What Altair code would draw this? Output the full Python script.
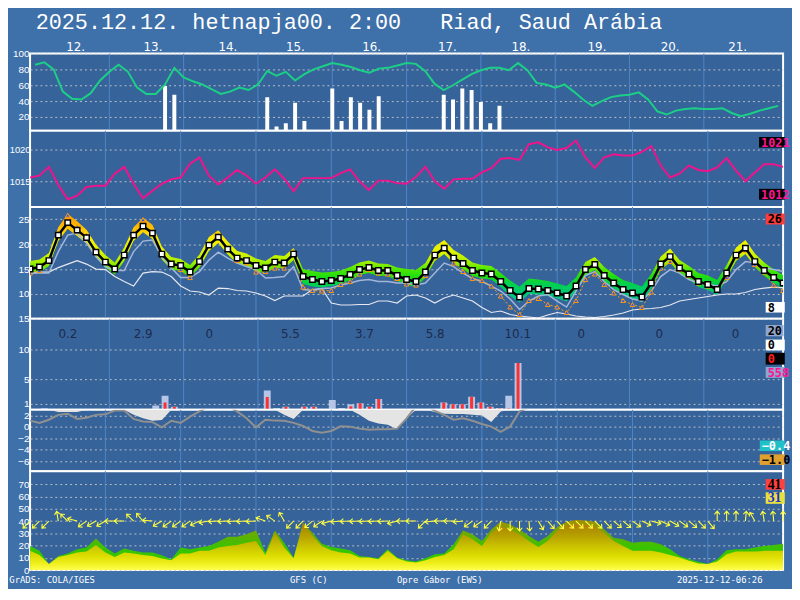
import altair as alt
import pandas as pd

# ---------------- data ----------------
HOURS = list(range(0, 241, 3))          # forecast steps, 3-hourly over 10 days
DAY_LINES = [24, 48, 72, 96, 120, 144, 168, 192, 216]
DAY_NAMES = ["12.", "13.", "14.", "15.", "16.", "17.", "18.", "19.", "20.", "21."]
DAY_NAME_H = [13.1, 38.1, 62.3, 84.1, 108.7, 133.2, 156.9, 181.5, 205.1, 226.9]

RH = [86, 89, 80, 52, 43, 42, 50, 66, 77, 86,
      77, 57, 49, 49, 61, 82, 70, 65, 61, 55,
      49, 52, 57, 54, 61, 78, 72, 77, 66, 74,
      80, 84, 88, 86, 83, 79, 76, 81, 82, 85,
      88, 87, 78, 62, 54, 60, 67, 74, 79, 82,
      82, 79, 88, 79, 63, 61, 57, 61, 52, 42,
      34, 40, 45, 47, 48, 51, 42, 27, 23, 28,
      30, 31, 30, 30, 31, 25, 21, 24, 28, 31, 34]

POP_H = [42, 45, 75, 78, 81, 84, 87, 90, 96, 99, 102, 105, 108, 111, 114,
         132, 135, 138, 141, 144, 147, 150, 156]
POP_V = [59, 48, 45, 8, 12, 38, 15, 3, 56, 15, 45, 38, 29, 46, 3,
         48, 42, 56, 54, 39, 12, 34, 1]

PRES = [1015.6, 1015.9, 1017.3, 1014.4, 1012.1, 1012.7, 1014.1, 1014.3, 1014.3, 1016.2,
        1017.3, 1014.6, 1012.3, 1013.5, 1014.6, 1015.3, 1015.6, 1017.8, 1018.8, 1015.9,
        1014.5, 1015.6, 1016.8, 1015.9, 1014.6, 1015.6, 1016.9, 1015.4, 1013.4, 1015.5,
        1015.5, 1015.5, 1015.5, 1016.3, 1016.9, 1015.0, 1013.6, 1015.1, 1015.1, 1014.7,
        1014.6, 1015.7, 1017.3, 1015.0, 1013.8, 1015.3, 1015.4, 1015.4, 1016.4, 1017.1,
        1018.6, 1018.7, 1018.4, 1020.9, 1021.2, 1020.4, 1020.0, 1020.3, 1021.5, 1018.8,
        1017.1, 1018.8, 1019.3, 1019.1, 1019.1, 1019.7, 1020.6, 1017.5, 1015.6, 1016.2,
        1017.5, 1016.8, 1016.6, 1017.2, 1018.7, 1016.7, 1015.0, 1016.4, 1017.7, 1017.7, 1017.3]

T2M = [15.0, 15.4, 16.7, 21.8, 24.3, 22.8, 21.3, 18.4, 16.4, 15.0,
       17.8, 21.8, 23.6, 22.2, 18.0, 16.0, 15.7, 14.4, 16.5, 19.8,
       21.4, 19.0, 17.2, 16.7, 15.7, 15.2, 16.4, 16.2, 18.0, 13.5,
       12.9, 12.5, 12.7, 13.1, 13.9, 14.9, 15.3, 14.7, 14.7, 13.7,
       12.9, 12.5, 14.4, 17.8, 19.2, 17.2, 16.1, 14.7, 14.2, 14.0,
       12.5, 10.7, 9.4, 11.1, 11.0, 10.7, 10.2, 9.6, 11.6, 14.9,
       15.9, 13.7, 12.2, 10.9, 10.2, 9.4, 12.2, 16.0, 17.5, 15.2,
       14.0, 12.5, 11.9, 10.9, 14.2, 17.8, 19.2, 16.5, 14.7, 13.3, 12.2]

T_ALT = [14.2, 14.7, 16.5, 22.2, 25.8, 23.5, 21.8, 18.5, 16.4, 14.9,
         17.8, 22.2, 24.9, 22.5, 18.2, 15.9, 14.9, 13.3, 16.3, 20.0,
         21.8, 19.0, 16.7, 16.3, 14.4, 14.5, 15.2, 15.2, 18.5, 11.4,
         10.7, 10.6, 10.7, 11.9, 12.5, 14.0, 14.9, 14.2, 14.0, 13.1,
         12.0, 11.8, 13.7, 17.5, 19.2, 16.2, 14.5, 13.1, 12.7, 11.6,
         9.6, 7.4, 5.9, 8.7, 9.1, 7.9, 7.4, 6.3, 8.7, 12.9,
         14.0, 11.9, 10.2, 8.7, 7.9, 7.3, 10.4, 15.2, 16.5, 14.9,
         13.7, 12.2, 11.6, 10.7, 13.3, 17.5, 18.8, 15.9, 14.4, 11.8, 10.7]

T_FEEL = [14.2, 14.2, 14.2, 18.5, 21.8, 22.2, 20.2, 17.5, 15.5, 14.7,
          14.7, 18.5, 20.6, 20.8, 17.5, 15.2, 13.3, 13.3, 14.5, 16.8,
          18.4, 17.2, 16.2, 15.5, 14.9, 13.2, 13.3, 13.5, 15.5, 10.9,
          10.7, 11.1, 11.2, 11.8, 12.2, 12.7, 12.9, 12.5, 12.5, 12.2,
          12.2, 11.8, 12.2, 14.2, 16.2, 15.5, 14.2, 13.1, 12.5, 11.6,
          10.6, 9.0, 6.9, 8.6, 9.6, 9.9, 8.6, 7.4, 10.6, 13.7,
          14.5, 12.5, 10.9, 9.9, 9.0, 8.6, 10.6, 13.5, 14.9, 14.2,
          12.9, 12.2, 11.9, 11.6, 12.5, 14.9, 16.5, 16.2, 15.2, 14.9, 14.5]

T_DEW = [14.2, 14.4, 14.4, 15.3, 16.0, 16.7, 16.0, 15.0, 14.9, 13.5,
         12.5, 11.6, 14.2, 14.5, 14.4, 13.5, 11.6, 10.6, 10.4, 9.8,
         11.2, 11.1, 10.7, 10.6, 10.2, 9.6, 8.7, 9.6, 9.6, 9.6,
         10.9, 11.1, 8.2, 7.8, 7.8, 7.9, 7.9, 8.6, 8.6, 8.2,
         9.6, 9.8, 9.2, 8.2, 9.2, 9.8, 9.2, 8.6, 7.3, 6.3,
         6.6, 5.9, 5.6, 5.4, 5.2, 5.8, 6.3, 6.0, 5.6, 5.4,
         5.3, 5.5, 5.8, 6.2, 6.8, 7.0, 7.1, 7.3, 7.8, 8.6,
         8.9, 9.2, 9.5, 9.8, 10.0, 10.0, 10.3, 10.9, 11.2, 11.4, 11.3]

BAND_HI = [16.6, 16.9, 18.2, 23.4, 26.1, 24.6, 22.9, 19.9, 17.8, 16.3,
           19.3, 23.4, 25.3, 23.9, 19.5, 17.4, 17.0, 15.8, 17.9, 21.4,
           22.8, 20.5, 18.6, 18.1, 17.1, 16.6, 17.8, 17.6, 19.2, 15.0,
           14.6, 14.3, 14.4, 14.7, 15.4, 16.3, 16.7, 16.1, 16.0, 15.3,
           15.0, 14.8, 16.2, 19.5, 20.8, 18.8, 17.7, 16.3, 15.8, 15.6,
           14.2, 12.7, 11.5, 13.1, 12.9, 12.6, 12.1, 11.6, 13.3, 16.4,
           17.4, 15.4, 14.0, 12.8, 12.2, 11.5, 14.0, 17.5, 19.1, 16.8,
           15.6, 14.2, 13.7, 12.8, 15.8, 19.3, 20.8, 18.1, 16.3, 14.9, 13.8]
BAND_LO = [13.9, 14.3, 15.6, 20.6, 23.1, 21.6, 20.1, 17.3, 15.3, 13.9,
           16.6, 20.6, 22.4, 21.0, 16.9, 14.9, 14.6, 13.3, 15.3, 18.6,
           20.2, 17.9, 16.1, 15.6, 14.6, 14.1, 15.3, 15.1, 16.8, 12.0,
           11.5, 11.3, 11.6, 12.0, 12.8, 13.8, 14.2, 13.6, 13.6, 12.6,
           11.8, 11.4, 13.2, 16.6, 18.0, 16.1, 15.0, 13.6, 13.1, 12.9,
           11.4, 9.6, 8.3, 10.0, 9.9, 9.6, 9.1, 8.5, 10.5, 13.8,
           14.8, 12.6, 11.1, 9.8, 9.1, 8.3, 11.0, 14.8, 16.3, 14.1,
           12.9, 11.4, 10.8, 9.8, 13.0, 16.6, 18.0, 15.4, 13.6, 12.2, 11.1]

PR_H = [3, 39, 42, 45, 75, 78, 81, 87, 90, 96, 99, 102, 105, 108, 111,
        132, 135, 138, 141, 144, 147, 150, 153, 156]
PR_TOT = [0.25, 0.7, 2.3, 0.5, 3.2, 0.3, 0.5, 0.5, 0.5, 1.6, 0.3, 0.9, 1.1, 0.5, 1.8,
          1.2, 0.9, 0.9, 2.15, 1.2, 0.5, 0.3, 2.3, 7.7]
PR_CONV = [0, 0, 1.2, 0.5, 2.1, 0, 0.5, 0.5, 0.5, 0, 0, 0.6, 1.1, 0.5, 1.8,
           1.2, 0.9, 0.9, 2.15, 1.2, 0.5, 0.2, 0.2, 7.7]
DAY_SUM = ["0.2", "2.9", "0", "5.5", "3.7", "5.8", "10.1", "0", "0", "0"]
DAY_SUM_H = [10.6, 34.9, 56.3, 82.5, 106.4, 129.2, 155.9, 176.4, 201.6, 226.2]

LOW_LINE = [1.1, 0.7, 1.25, 2.1, 2.3, 1.4, 1.6, 2.1, 2.2, 2.85,
            2.85, 1.4, 0.96, 0.84, -0.07, 1.08, 0.7, 1.8, 2.7, 3.6,
            4.2, 3.6, 2.7, 1.5, -0.07, 1.25, 1.1, 1.08, 0.7, 0.17,
            -0.7, -1.0, -0.7, 0.1, 0.05, -0.3, -0.5, -0.4, -0.4, -0.3,
            1.5, 3.6, 3.8, 2.8, 2.1, 1.25, 1.5, 1.08, 0.5, 0.05,
            -0.85, 0.05, 2.7, 3.4] + [None] * 27
LOW_FILL = [2.98, 2.98, 2.98, 2.6, 2.6, 2.6, 2.98, 2.98, 2.98, 2.98,
            2.98, 2.1, 1.5, 1.08, 1.2, 2.98, 2.98, 2.98, 2.98, 2.98,
            2.98, 2.98, 2.98, 2.98, 2.98, 2.98, 2.98, 2.1, 1.4, 2.98,
            2.98, 2.98, 2.98, 2.98, 2.98, 2.1, 1.08, 0.6, 0.4, -0.4,
            1.5, 2.98, 2.98, 2.6, 2.3, 2.25, 2.25, 2.1, 2.0, 0.85,
            2.7, 2.98, 2.98, 2.98, 2.98, 2.98, 2.98, 2.98, 2.98, 2.98,
            2.98, 2.98, 2.98, 2.98, 2.98, 2.98, 2.98, 2.98, 2.98, 2.98,
            2.98, 2.98, 2.98, 2.98, 2.98, 2.98, 2.98, 2.98, 2.98, 2.98, 2.98]

CLD_G = [19.7, 15.7, 4.9, 11.6, 13.5, 17.0, 18.4, 25.7, 18.4, 13.5,
         17.6, 15.7, 14.3, 14.3, 12.2, 8.9, 18.4, 17.0, 18.4, 19.7,
         23.2, 27.3, 27.3, 29.2, 32.4, 14.3, 32.4, 22.4, 10.3, 38.6,
         30.5, 21.6, 18.9, 17.6, 16.2, 11.6, 10.8, 9.7, 17.0, 10.3,
         8.1, 7.0, 9.7, 13.0, 13.5, 21.0, 32.4, 29.2, 23.8, 33.2,
         39.5, 37.3, 33.2, 27.8, 23.2, 27.8, 35.1, 39.5, 40.8, 40.5,
         39.5, 33.2, 26.5, 25.1, 22.4, 23.2, 23.2, 21.0, 17.0, 11.6,
         8.9, 6.8, 4.9, 8.9, 16.2, 17.0, 17.0, 18.4, 19.7, 20.5, 21.6]
CLD_Y = [15.7, 12.4, 4.9, 10.8, 12.4, 14.3, 15.1, 20.5, 14.3, 10.8,
         14.3, 13.5, 12.4, 11.6, 9.5, 8.1, 13.5, 13.5, 15.7, 15.7,
         18.4, 19.7, 20.5, 22.4, 23.8, 12.4, 30.5, 18.4, 9.7, 37.8,
         27.8, 19.7, 16.2, 14.3, 13.5, 10.3, 10.3, 8.9, 15.7, 9.7,
         7.0, 6.2, 8.1, 10.8, 12.4, 17.0, 29.2, 25.1, 19.7, 30.5,
         35.9, 33.2, 29.2, 23.8, 18.9, 23.8, 31.9, 36.8, 37.8, 37.3,
         35.9, 30.5, 23.8, 19.7, 15.7, 15.7, 15.7, 14.3, 12.4, 10.3,
         7.6, 5.4, 4.9, 7.0, 13.0, 15.1, 15.1, 15.1, 15.7, 15.7, 15.7]

WIND_DIR = [225, 225, 225, 350, 315, 285, 235, 240, 240, 270,
            270, 315, 320, 275, 240, 235, 235, 235, 245, 260,
            268, 268, 268, 268, 268, 290, 305, 330, 225, 225,
            230, 235, 255, 265, 268, 268, 268, 268, 268, 255,
            270, 270, 225, 265, 270, 270, 265, 235, 235, 225,
            190, 180, 180, 175, 150, 140, 140, 135, 135, 135,
            135, 135, 130, 130, 125, 115, 105, 115, 120, 125,
            130, 135, 140, 0, 0, 0, 5, 330, 350, 355, 0]
WIND_LEVEL = 40      # the arrows sit on the 40 line of the lowest panel

TITLE = "2025.12.12. hetnapja00. 2:00\u00a0\u00a0\u00a0Riad, Saud Arábia"

# ---------------- frames ----------------
main = pd.DataFrame({"h": HOURS, "rh": RH, "p": PRES, "t": T2M, "ta": T_ALT,
                     "tf": T_FEEL, "td": T_DEW, "hi": BAND_HI, "lo": BAND_LO,
                     "lw": LOW_LINE, "lf": LOW_FILL, "cg": CLD_G, "cy": CLD_Y,
                     "wd": WIND_DIR})
days = pd.DataFrame({"h": DAY_LINES})
daylab = pd.DataFrame({"h": DAY_NAME_H, "t": DAY_NAMES})
pop = pd.DataFrame({"h": POP_H, "v": POP_V})
prec = pd.DataFrame({"h": PR_H, "tot": PR_TOT, "conv": PR_CONV})
daysum = pd.DataFrame({"h": DAY_SUM_H, "t": DAY_SUM})
ONE = pd.DataFrame({"k": [0]})

# ---------------- styling helpers ----------------
BG = "#3e70aa"
PLOT_BG = "#36639a"
W = 761
AX_EXT = 34          # fixed y-axis extent -> deterministic left edge
RIGHT = 762.7        # right edge of the page area, relative to plot left


def X():
    return alt.X("h:Q", scale=alt.Scale(domain=[0, 240], nice=False, zero=False), axis=None)


def yaxis(vals, fsize=10, pad=1):
    return alt.Axis(values=vals, format="d", grid=True, ticks=False, domain=False, title=None,
                    labelColor="white", labelFont="Liberation Sans", labelFontSize=fsize,
                    labelPadding=pad, labelOverlap=False,
                    minExtent=AX_EXT, maxExtent=AX_EXT,
                    gridColor="#c9c9c9", gridDash=[2, 3], gridOpacity=0.9, gridWidth=1)


def yscale(dom):
    return alt.Scale(domain=dom, nice=False, zero=False)


def Y(field, dom, vals, fsize=10, pad=1):
    return alt.Y(f"{field}:Q", scale=yscale(dom), axis=yaxis(vals, fsize, pad))


def rules():
    return alt.Chart(days).mark_rule(color="#4f86c8", strokeWidth=1).encode(x=X())


def badge(text, x1, x2, y1, y2, fill, color, font="DejaVu Sans Mono", size=12):
    r = alt.Chart(ONE).mark_rect(fill=fill).encode(
        x=alt.value(x1), x2=alt.value(x2), y=alt.value(y1), y2=alt.value(y2))
    t = alt.Chart(ONE).mark_text(text=text, align="left", baseline="middle", font=font,
                                 fontSize=size, fontWeight="bold", color=color).encode(
        x=alt.value(x1 + 2), y=alt.value((y1 + y2) / 2 + 0.5))
    return [r, t]


def grad(stops, vmax, vmin):
    out = []
    for v, c in stops:
        off = (vmax - v) / (vmax - vmin)
        out.append(alt.GradientStop(color=c, offset=min(1.0, max(0.0, off))))
    return alt.LinearGradient(gradient="linear", stops=out, x1=0, x2=0, y1=0, y2=1)


# ---------------- panel 1: humidity ----------------
D1, V1 = [2.5, 100], [20, 40, 60, 80, 100]
p1 = alt.layer(
    rules(),
    alt.Chart(pop).mark_bar(color="white", size=4, clip=True, orient="vertical").encode(
        x=X(), y=Y("v", D1, V1)),
    alt.Chart(main).mark_line(color="#1ccf86", strokeWidth=2, clip=True).encode(
        x=X(), y=Y("rh", D1, V1)),
    alt.Chart(daylab).mark_text(color="white", font="DejaVu Sans", fontSize=12,
                                align="center", baseline="alphabetic").encode(
        x=X(), y=alt.value(-3), text="t:N"),
    alt.Chart(ONE).mark_text(text=TITLE, color="white", font="Liberation Mono", fontSize=22,
                             align="left", baseline="alphabetic").encode(
        x=alt.value(5.7), y=alt.value(-25)),
    # invisible frame marker fixing the top edge of the layout
    alt.Chart(ONE).mark_rect(opacity=0).encode(
        x=alt.value(0), x2=alt.value(10), y=alt.value(-46), y2=alt.value(-45)),
).properties(width=W, height=78)

# ---------------- panel 2: pressure ----------------
D2, V2 = [1010.9, 1023.05], [1015, 1020]
p2 = alt.layer(
    rules(),
    alt.Chart(main).mark_line(color="#f0148c", strokeWidth=2, clip=True).encode(
        x=X(), y=Y("p", D2, V2, fsize=9.5, pad=0)),
    *badge("1021", 736.7, RIGHT, 6.3, 17.0, "black", "#ff1493"),
    *badge("1012", 736.7, RIGHT, 58.7, 69.7, "black", "#ff1493"),
).properties(width=W, height=77)

# ---------------- panel 3: temperature ----------------
D3, V3 = [5.04, 27.44], [10, 15, 20, 25]
band_grad = grad([(26.5, "#ff9a00"), (24.0, "#ffb400"), (22.5, "#ffd200"), (21.0, "#f4f000"),
                  (18.5, "#e0f400"), (16.5, "#a8f000"), (15.0, "#50e800"), (13.5, "#20dc10"),
                  (12.0, "#00d050"), (10.0, "#00c878"), (8.0, "#10bc90")],
                 max(BAND_HI), min(BAND_LO))
p3 = alt.layer(
    rules(),
    alt.Chart(main).mark_area(color=band_grad, clip=True).encode(
        x=X(), y=Y("lo", D3, V3), y2="hi:Q"),
    alt.Chart(main).mark_line(color="#e8e8f0", strokeWidth=1.2, clip=True).encode(
        x=X(), y=Y("td", D3, V3)),
    alt.Chart(main).mark_line(color="#a3b6d8", strokeWidth=1.5, clip=True).encode(
        x=X(), y=Y("tf", D3, V3)),
    alt.Chart(main).mark_line(color="#ffa020", strokeWidth=1, strokeDash=[2, 2], clip=True).encode(
        x=X(), y=Y("ta", D3, V3)),
    alt.Chart(main).mark_point(shape="triangle-up", filled=True, fill="#3355ff", stroke="#ff9900",
                               strokeWidth=1, size=22, opacity=1, clip=True).encode(
        x=X(), y=Y("ta", D3, V3)),
    alt.Chart(main).mark_line(color="black", strokeWidth=2.5, clip=True).encode(
        x=X(), y=Y("t", D3, V3)),
    alt.Chart(main).mark_point(shape="square", filled=True, fill="white", stroke="black",
                               strokeWidth=1.5, size=30, opacity=1, clip=True).encode(
        x=X(), y=Y("t", D3, V3)),
    *badge("26", 743.4, RIGHT, 6.7, 17.7, "#ff3b3b", "black"),
    *badge("8", 743.4, RIGHT, 96.0, 106.7, "white", "black"),
).properties(width=W, height=113)

# ---------------- panel 4: precipitation ----------------
D4, V4 = [0, 15], [1, 5, 10, 15]
p4 = alt.layer(
    rules(),
    alt.Chart(prec).mark_bar(color="#b6c5e6", size=7, clip=True, orient="vertical").encode(
        x=X(), y=Y("tot", D4, V4)),
    alt.Chart(prec).mark_bar(color="#ff3030", size=3, clip=True, orient="vertical").encode(
        x=X(), y=Y("conv", D4, V4)),
    alt.Chart(daysum).mark_text(color="#1c2b4e", font="DejaVu Sans", fontSize=12,
                                align="center", baseline="middle").encode(
        x=X(), y=alt.value(15), text="t:N"),
    *badge("20", 743.4, 761.4, 6.3, 17.7, "#8fa6cf", "black"),
    *badge("0", 743.4, RIGHT, 21.0, 32.0, "white", "black"),
    *badge("0", 743.4, RIGHT, 34.3, 46.3, "black", "#ff2020"),
    *badge("558", 743.4, RIGHT, 48.7, 59.7, "#8fa6cf", "#ff1493"),
).properties(width=W, height=92)

# ---------------- panel 4b ----------------
D4B, V4B = [-7.71, 2.98], [-6, -4, -2, 0, 2]
p4b = alt.layer(
    rules(),
    alt.Chart(main).mark_area(color="#e4e4e4", clip=True).encode(
        x=X(), y=Y("lf", D4B, V4B), y2=alt.datum(2.98)),
    alt.Chart(main).transform_filter("isValid(datum.lw)").mark_line(
        color="#909090", strokeWidth=2, clip=True).encode(x=X(), y=Y("lw", D4B, V4B)),
    *badge("\u22120.4", 737.4, RIGHT, 31.0, 41.7, "#20c0c8", "white"),
    *badge("\u22121.0", 737.4, RIGHT, 45.0, 55.7, "#e0a030", "black"),
).properties(width=W, height=62)

# ---------------- panel 5: cloud / wind ----------------
D5, V5 = [0, 80.7], [0, 10, 20, 30, 40, 50, 60, 70]
green_grad = grad([(41, "#a89000"), (36, "#8a9a00"), (30, "#6aac00"), (24, "#50b800"),
                   (18, "#38c400"), (0, "#30c800")], max(CLD_G), 0)
yellow_grad = grad([(38, "#b07a10"), (33, "#b09000"), (27, "#b8a400"), (20, "#c8c000"),
                    (12, "#dcdc00"), (5, "#f0f020"), (0, "#ffff50")], max(CLD_Y), 0)
ARROW = "M0,0L0,-2M-0.55,-1.35L0,-2L0.55,-1.35"
FOOT_Y = 113
p5 = alt.layer(
    rules(),
    alt.Chart(main).mark_area(color=green_grad, clip=True).encode(x=X(), y=Y("cg", D5, V5)),
    alt.Chart(main).mark_area(color=yellow_grad, clip=True).encode(x=X(), y=Y("cy", D5, V5)),
    alt.Chart(main).mark_point(shape=ARROW, size=100, filled=False, stroke="#ffff40",
                               strokeWidth=1.1, opacity=1).encode(
        x=X(),
        y=alt.YDatum(WIND_LEVEL, type="quantitative", scale=yscale(D5), axis=yaxis(V5)),
        angle=alt.Angle("wd:Q", scale=None)),
    *badge("41", 743.4, RIGHT, 8.0, 18.7, "#ff4040", "black", font="Liberation Serif", size=14),
    *badge("31", 743.4, RIGHT, 21.3, 33.0, "#e8e040", "#2030d0", font="Liberation Serif", size=14),
    alt.Chart(ONE).mark_text(text="GrADS: COLA/IGES", color="white", font="DejaVu Sans Mono",
                             fontSize=9, align="left", baseline="alphabetic").encode(
        x=alt.value(-21), y=alt.value(FOOT_Y)),
    alt.Chart(ONE).mark_text(text="GFS (C)", color="white", font="DejaVu Sans Mono",
                             fontSize=9, align="left", baseline="alphabetic").encode(
        x=alt.value(262.7), y=alt.value(FOOT_Y)),
    alt.Chart(ONE).mark_text(text="Opre Gábor (EWS)", color="white", font="DejaVu Sans Mono",
                             fontSize=9, align="left", baseline="alphabetic").encode(
        x=alt.value(370.7), y=alt.value(FOOT_Y)),
    alt.Chart(ONE).mark_text(text="2025-12-12-06:26", color="white", font="DejaVu Sans Mono",
                             fontSize=9, align="left", baseline="alphabetic").encode(
        x=alt.value(653.7), y=alt.value(FOOT_Y)),
).properties(width=W, height=100)

chart = alt.vconcat(
    p1, p2, p3, p4, p4b, p5,
    spacing=0, bounds="flush",
    padding={"left": 21.3 - AX_EXT, "top": -4, "right": 0, "bottom": 0},
).configure(background=BG).configure_view(fill=PLOT_BG, stroke="white", strokeWidth=2)

chart.save("out.html", embed_options={"renderer": "svg", "actions": False})
